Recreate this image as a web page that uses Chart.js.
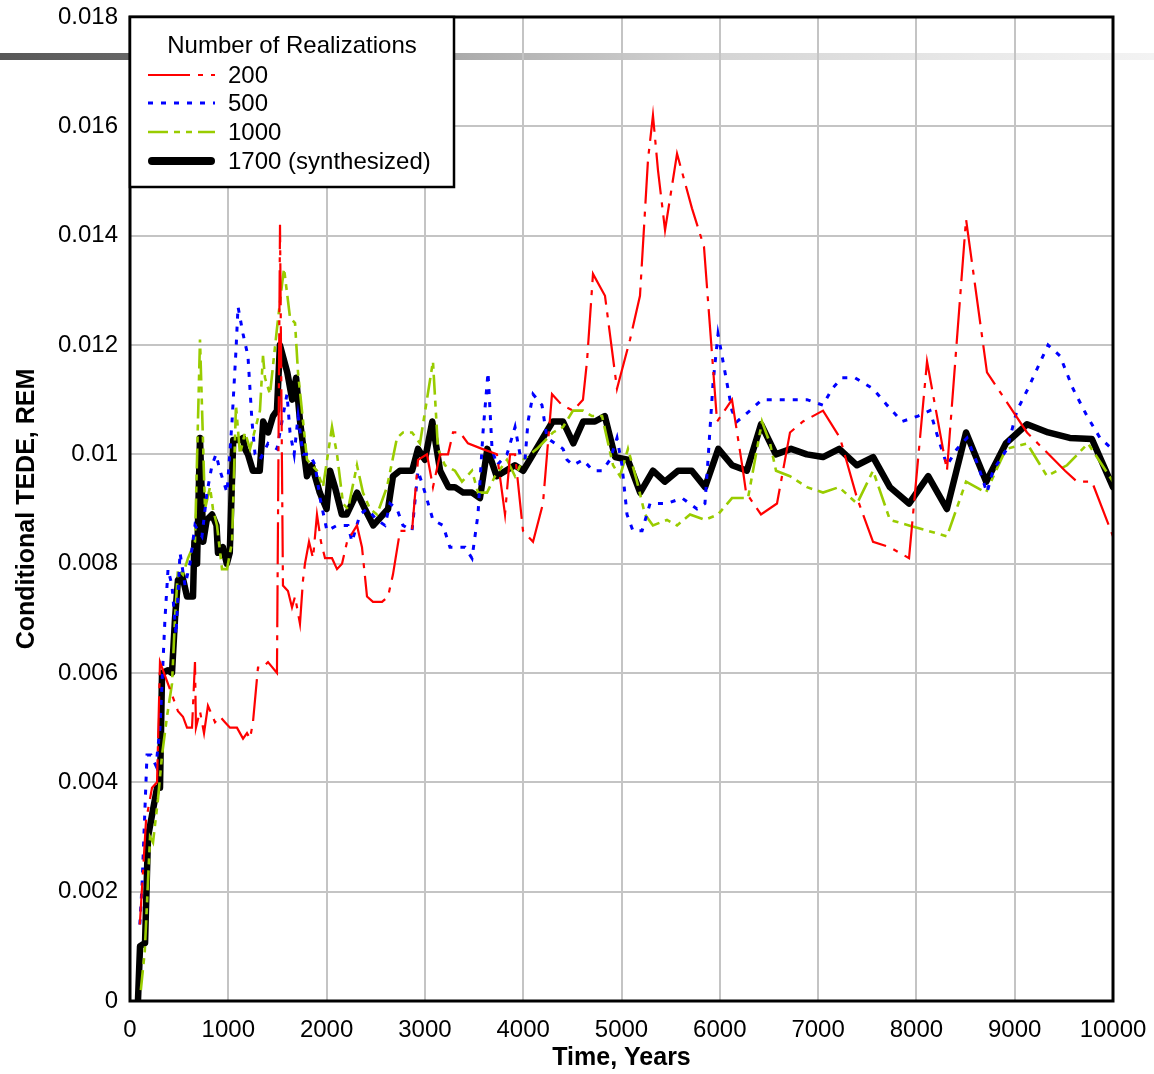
<!DOCTYPE html>
<html>
<head>
<meta charset="utf-8">
<script src="https://cdn.jsdelivr.net/npm/chart.js@4.4.1/dist/chart.umd.min.js"></script>
<style>
  html, body { margin: 0; padding: 0; background: #fff; }
  canvas { display: block; }
</style>
</head>
<body>
<canvas id="tede" width="1154" height="1074"></canvas>
<script>
// Conditional TEDE (rem) versus time (years) for different numbers of realizations.
// Each series is a list of [year, TEDE] pairs.
const realizations200 = [
  [100,0.0014],[163,0.0033],[224,0.0039],[275,0.0040],[305,0.0062],[407,0.0057],[488,0.0053],[539,0.0052],
  [580,0.0050],[631,0.0050],[661,0.0062],[671,0.0050],[712,0.0053],[753,0.0049],[793,0.0054],[865,0.0051],
  [916,0.0052],[966,0.0051],[1017,0.0050],[1088,0.0050],[1150,0.0048],[1190,0.0049],[1221,0.0048],[1251,0.0051],
  [1302,0.0061],[1353,0.0061],[1404,0.0062],[1495,0.0060],[1526,0.0142],[1556,0.0076],[1607,0.0075],[1648,0.0072],
  [1679,0.0074],[1729,0.0069],[1760,0.0077],[1780,0.0080],[1821,0.0084],[1862,0.0081],[1902,0.0089],[1943,0.0084],
  [1984,0.0081],[2055,0.0081],[2106,0.0079],[2157,0.0080],[2208,0.0084],[2309,0.0087],[2360,0.0083],[2411,0.0074],
  [2472,0.0073],[2564,0.0073],[2625,0.0074],[2675,0.0078],[2747,0.0086],[2869,0.0086],[2930,0.0099],[3021,0.0100],
  [3082,0.0094],[3154,0.0100],[3235,0.0100],[3286,0.0104],[3357,0.0104],[3438,0.0102],[3581,0.0101],[3733,0.0100],
  [3815,0.0089],[3866,0.0100],[3917,0.0100],[3998,0.0086],[4100,0.0084],[4201,0.0091],[4293,0.0111],[4395,0.0109],
  [4507,0.0108],[4608,0.0110],[4649,0.0117],[4710,0.0133],[4832,0.0129],[4954,0.0112],[5087,0.0121],[5188,0.0129],
  [5270,0.0154],[5320,0.0162],[5371,0.0152],[5443,0.0141],[5565,0.0155],[5717,0.0145],[5839,0.0138],[5972,0.0106],
  [6124,0.0110],[6236,0.0097],[6267,0.0093],[6419,0.0089],[6582,0.0091],[6714,0.0104],[6846,0.0106],[7050,0.0108],
  [7223,0.0103],[7396,0.0092],[7559,0.0084],[7731,0.0083],[7925,0.0081],[8108,0.0117],[8311,0.0097],[8505,0.0143],
  [8718,0.0115],[9125,0.0104],[9512,0.0097],[9634,0.0095],[9786,0.0095],[10000,0.0085]
];
const realizations500 = [
  [100,0.0014],[122,0.0021],[173,0.0045],[214,0.0045],[265,0.0043],[305,0.0050],[356,0.0070],[387,0.0079],
  [427,0.0076],[468,0.0067],[509,0.0082],[560,0.0076],[610,0.0080],[661,0.0087],[732,0.0085],[783,0.0093],
  [834,0.0098],[875,0.0100],[916,0.0097],[987,0.0093],[1038,0.0106],[1078,0.0119],[1099,0.0127],[1150,0.0122],
  [1200,0.0118],[1241,0.0106],[1272,0.0100],[1322,0.0099],[1404,0.0102],[1495,0.0101],[1556,0.0107],[1597,0.0111],
  [1628,0.0104],[1670,0.0100],[1710,0.0107],[1760,0.0100],[1831,0.0100],[1882,0.0098],[1933,0.0092],[2004,0.0086],
  [2106,0.0087],[2218,0.0087],[2258,0.0084],[2340,0.0089],[2411,0.0090],[2513,0.0088],[2594,0.0087],[2645,0.0091],
  [2716,0.0090],[2777,0.0087],[2869,0.0086],[2930,0.0097],[3001,0.0093],[3082,0.0088],[3184,0.0087],[3255,0.0083],
  [3408,0.0083],[3479,0.0081],[3540,0.0089],[3591,0.0104],[3642,0.0115],[3683,0.0101],[3733,0.0098],[3835,0.0100],
  [3917,0.0105],[3967,0.0100],[4018,0.0099],[4049,0.0106],[4100,0.0111],[4191,0.0109],[4242,0.0103],[4405,0.0101],
  [4446,0.0099],[4507,0.0098],[4608,0.0099],[4710,0.0097],[4802,0.0097],[4883,0.0099],[4954,0.0103],[5005,0.0098],
  [5056,0.0089],[5117,0.0086],[5209,0.0086],[5290,0.0091],[5463,0.0091],[5616,0.0092],[5768,0.0090],[5849,0.0091],
  [5880,0.0099],[5931,0.0113],[5982,0.0122],[6053,0.0115],[6124,0.0108],[6175,0.0106],[6307,0.0108],[6429,0.0110],
  [6582,0.0110],[6735,0.0110],[6887,0.0110],[7050,0.0109],[7142,0.0112],[7243,0.0114],[7375,0.0114],[7559,0.0112],
  [7701,0.0109],[7854,0.0106],[8016,0.0107],[8138,0.0108],[8220,0.0103],[8311,0.0098],[8413,0.0101],[8515,0.0103],
  [8627,0.0098],[8718,0.0093],[8779,0.0097],[8922,0.0101],[9023,0.0108],[9135,0.0112],[9339,0.0120],[9461,0.0118],
  [9593,0.0112],[9736,0.0107],[9868,0.0103],[9990,0.0101]
];
const realizations1000 = [
  [110,0.0002],[150,0.0009],[204,0.0030],[234,0.0029],[285,0.0037],[326,0.0045],[376,0.0052],[427,0.0058],
  [458,0.0070],[488,0.0079],[539,0.0078],[590,0.0081],[661,0.0084],[712,0.0121],[763,0.0090],[814,0.0094],
  [844,0.0090],[885,0.0087],[936,0.0079],[987,0.0079],[1038,0.0084],[1078,0.0109],[1119,0.0100],[1170,0.0104],
  [1221,0.0101],[1322,0.0108],[1353,0.0118],[1373,0.0114],[1424,0.0111],[1495,0.0123],[1546,0.0131],[1567,0.0134],
  [1628,0.0125],[1679,0.0124],[1709,0.0115],[1801,0.0099],[1902,0.0097],[1963,0.0094],[2055,0.0105],[2106,0.0100],
  [2167,0.0091],[2218,0.0090],[2309,0.0098],[2370,0.0093],[2442,0.0090],[2513,0.0089],[2614,0.0094],[2716,0.0103],
  [2777,0.0104],[2869,0.0104],[2950,0.0102],[3082,0.0117],[3133,0.0101],[3204,0.0098],[3306,0.0097],[3377,0.0095],
  [3479,0.0097],[3540,0.0093],[3632,0.0093],[3713,0.0096],[3835,0.0099],[3917,0.0096],[3998,0.0099],[4140,0.0101],
  [4303,0.0104],[4405,0.0105],[4507,0.0108],[4608,0.0108],[4700,0.0107],[4802,0.0107],[4914,0.0098],[4985,0.0096],
  [5066,0.0101],[5158,0.0095],[5239,0.0089],[5320,0.0087],[5463,0.0088],[5565,0.0087],[5697,0.0089],[5849,0.0088],
  [5982,0.0089],[6124,0.0092],[6287,0.0092],[6429,0.0106],[6511,0.0102],[6572,0.0097],[6714,0.0096],[6887,0.0094],
  [7050,0.0093],[7213,0.0094],[7396,0.0091],[7559,0.0097],[7731,0.0088],[7925,0.0087],[8118,0.0086],[8311,0.0085],
  [8505,0.0095],[8708,0.0093],[8912,0.0101],[9125,0.0102],[9329,0.0096],[9532,0.0098],[9746,0.0102],[10000,0.0095]
];
const realizations1700 = [
  [81,0],[102,0.0010],[153,0.00106],[183,0.0030],[224,0.0034],[275,0.0039],[305,0.0039],[326,0.0060],
  [387,0.00605],[427,0.0060],[458,0.0070],[488,0.0077],[529,0.0078],[580,0.0074],[641,0.0074],[655,0.0084],
  [682,0.0080],[712,0.0103],[745,0.0084],[780,0.0088],[835,0.0089],[880,0.0087],[895,0.0082],[945,0.0083],
  [985,0.0080],[1015,0.0082],[1050,0.01026],[1120,0.01026],[1150,0.0103],[1170,0.0101],[1200,0.0100],[1250,0.0097],
  [1320,0.0097],[1355,0.0106],[1405,0.0104],[1455,0.0107],[1495,0.0108],[1525,0.0120],[1600,0.0115],[1650,0.0110],
  [1690,0.0114],[1730,0.0106],[1800,0.0096],[1850,0.0098],[1930,0.0093],[2000,0.0090],[2035,0.0097],[2085,0.0094],
  [2155,0.0089],[2205,0.0089],[2310,0.0093],[2390,0.0090],[2475,0.0087],[2575,0.0089],[2625,0.0090],[2675,0.0096],
  [2745,0.0097],[2870,0.0097],[2930,0.0101],[3000,0.0099],[3075,0.0106],[3155,0.0097],[3240,0.0094],[3305,0.0094],
  [3390,0.0093],[3480,0.0093],[3560,0.0092],[3635,0.0101],[3730,0.0096],[3915,0.0098],[4000,0.0097],[4100,0.0100],
  [4200,0.0103],[4300,0.0106],[4405,0.0106],[4510,0.0102],[4610,0.0106],[4730,0.0106],[4830,0.0107],[4935,0.00995],
  [5065,0.0099],[5190,0.0093],[5320,0.0097],[5440,0.0095],[5575,0.0097],[5715,0.0097],[5850,0.0094],[5985,0.0101],
  [6125,0.0098],[6275,0.0097],[6420,0.01055],[6570,0.0100],[6725,0.0101],[6885,0.0100],[7050,0.00995],[7215,0.0101],
  [7395,0.0098],[7560,0.00995],[7730,0.0094],[7925,0.0091],[8120,0.0096],[8310,0.0090],[8505,0.0104],[8710,0.0095],
  [8910,0.0102],[9125,0.01055],[9340,0.0104],[9560,0.0103],[9785,0.01028],[10000,0.0094]
];

const seriesNames = ['200', '500', '1000', '1700 (synthesized)'];
const legendTitle = 'Number of Realizations';
const xTickValues = [0, 1000, 2000, 3000, 4000, 5000, 6000, 7000, 8000, 9000, 10000];
const xTickLabels = ['0', '1000', '2000', '3000', '4000', '5000', '6000', '7000', '8000', '9000', '10000'];
const yTickValues = [0, 0.002, 0.004, 0.006, 0.008, 0.010, 0.012, 0.014, 0.016, 0.018];
const yTickLabels = ['0', '0.002', '0.004', '0.006', '0.008', '0.01', '0.012', '0.014', '0.016', '0.018'];
const xTitle = 'Time, Years';
const yTitle = 'Conditional TEDE, REM';

const FONT = '"Liberation Sans", Arial, Helvetica, sans-serif';
const toXY = pairs => pairs.map(p => ({ x: p[0], y: p[1] }));

// Decorative header rule running across the page behind the plot.
const headerRule = {
  id: 'headerRule',
  beforeDraw(chart) {
    const { ctx, width, height } = chart;
    ctx.save();
    ctx.fillStyle = '#ffffff';
    ctx.fillRect(0, 0, width, height);
    const g = ctx.createLinearGradient(0, 0, width, 0);
    g.addColorStop(0.00, '#575757');
    g.addColorStop(0.11, '#666666');
    g.addColorStop(0.39, '#a9a9a9');
    g.addColorStop(0.60, '#d2d2d2');
    g.addColorStop(0.85, '#e9e9e9');
    g.addColorStop(1.00, '#f3f3f3');
    ctx.fillStyle = g;
    ctx.fillRect(0, 53, width, 7);
    ctx.restore();
  }
};

// Black frame round the plotting area.
const plotFrame = {
  id: 'plotFrame',
  afterDatasetsDraw(chart) {
    const { ctx, chartArea: a } = chart;
    ctx.save();
    ctx.strokeStyle = '#000';
    ctx.lineWidth = 3;
    ctx.strokeRect(a.left, a.top, a.right - a.left, a.bottom - a.top);
    ctx.restore();
  }
};

// Boxed legend in the upper-left corner of the plot.
const cornerLegend = {
  id: 'cornerLegend',
  afterDatasetsDraw(chart) {
    const { ctx, chartArea: a } = chart;
    const boxW = 324, boxH = 170;
    const x0 = a.left, y0 = a.top;
    ctx.save();
    ctx.fillStyle = '#fff';
    ctx.fillRect(x0, y0, boxW, boxH);
    ctx.strokeStyle = '#000';
    ctx.lineWidth = 2.5;
    ctx.strokeRect(x0, y0, boxW, boxH);
    ctx.fillStyle = '#000';
    ctx.font = '24px ' + FONT;
    ctx.textBaseline = 'middle';
    ctx.textAlign = 'center';
    ctx.fillText(legendTitle, x0 + boxW / 2, y0 + 29);
    ctx.textAlign = 'left';
    const rowY = [58, 86, 115, 144];
    chart.data.datasets.forEach((ds, i) => {
      const y = y0 + rowY[i];
      ctx.save();
      ctx.strokeStyle = ds.borderColor;
      ctx.lineWidth = i === 3 ? 8 : ds.borderWidth;
      ctx.lineCap = i === 3 ? 'round' : 'butt';
      ctx.setLineDash(ds.borderDash || []);
      ctx.beginPath();
      ctx.moveTo(x0 + 18 + (i === 3 ? 4 : 0), y);
      ctx.lineTo(x0 + 85 - (i === 3 ? 4 : 0), y);
      ctx.stroke();
      ctx.restore();
      ctx.fillText(ds.label, x0 + 98, y + 1);
    });
    ctx.restore();
  }
};

new Chart(document.getElementById('tede'), {
  type: 'line',
  data: {
    datasets: [
      { label: seriesNames[0], data: toXY(realizations200), borderColor: '#ff0000', borderWidth: 2.2,
        borderDash: [42, 8, 5, 8] },
      { label: seriesNames[1], data: toXY(realizations500), borderColor: '#0000ff', borderWidth: 3,
        borderDash: [5, 8] },
      { label: seriesNames[2], data: toXY(realizations1000), borderColor: '#99cc00', borderWidth: 2.6,
        borderDash: [20, 6, 6, 6, 6, 6] },
      { label: seriesNames[3], data: toXY(realizations1700), borderColor: '#000000', borderWidth: 6.5,
        borderJoinStyle: 'round', borderCapStyle: 'round' }
    ]
  },
  options: {
    responsive: false,
    animation: false,
    devicePixelRatio: 1,
    layout: { padding: { left: 0, right: 41, top: 17, bottom: 0 } },
    elements: { point: { radius: 0, hoverRadius: 0 }, line: { tension: 0, fill: false } },
    plugins: { legend: { display: false }, tooltip: { enabled: false } },
    scales: {
      x: {
        type: 'linear', min: 0, max: 10000,
        afterBuildTicks: s => { s.ticks = xTickValues.map(v => ({ value: v })); },
        afterFit: s => { s.height = 73; s.paddingLeft = 0; s.paddingRight = 0; },
        ticks: { color: '#000', font: { family: FONT, size: 24 }, padding: 15, maxRotation: 0,
                 callback: (v, i) => xTickLabels[i] },
        grid: { color: '#c4c4c4', lineWidth: 2, drawTicks: false },
        border: { display: false },
        title: { display: true, text: xTitle, color: '#000',
                 font: { family: FONT, size: 25, weight: 'bold', lineHeight: 1.2 },
                 padding: { top: 0, bottom: 1 } }
      },
      y: {
        type: 'linear', min: 0, max: 0.018,
        afterBuildTicks: s => { s.ticks = yTickValues.map(v => ({ value: v })); },
        afterFit: s => { s.width = 130; s.paddingTop = 0; s.paddingBottom = 0; },
        ticks: { color: '#000', font: { family: FONT, size: 24 }, padding: 12,
                 callback: (v, i) => yTickLabels[i] },
        grid: { color: '#c4c4c4', lineWidth: 2, drawTicks: false },
        border: { display: false },
        title: { display: true, text: yTitle, color: '#000',
                 font: { family: FONT, size: 25, weight: 'bold', lineHeight: 1.2 },
                 padding: { top: 12, bottom: 0 } }
      }
    }
  },
  plugins: [headerRule, plotFrame, cornerLegend]
});
</script>
</body>
</html>
